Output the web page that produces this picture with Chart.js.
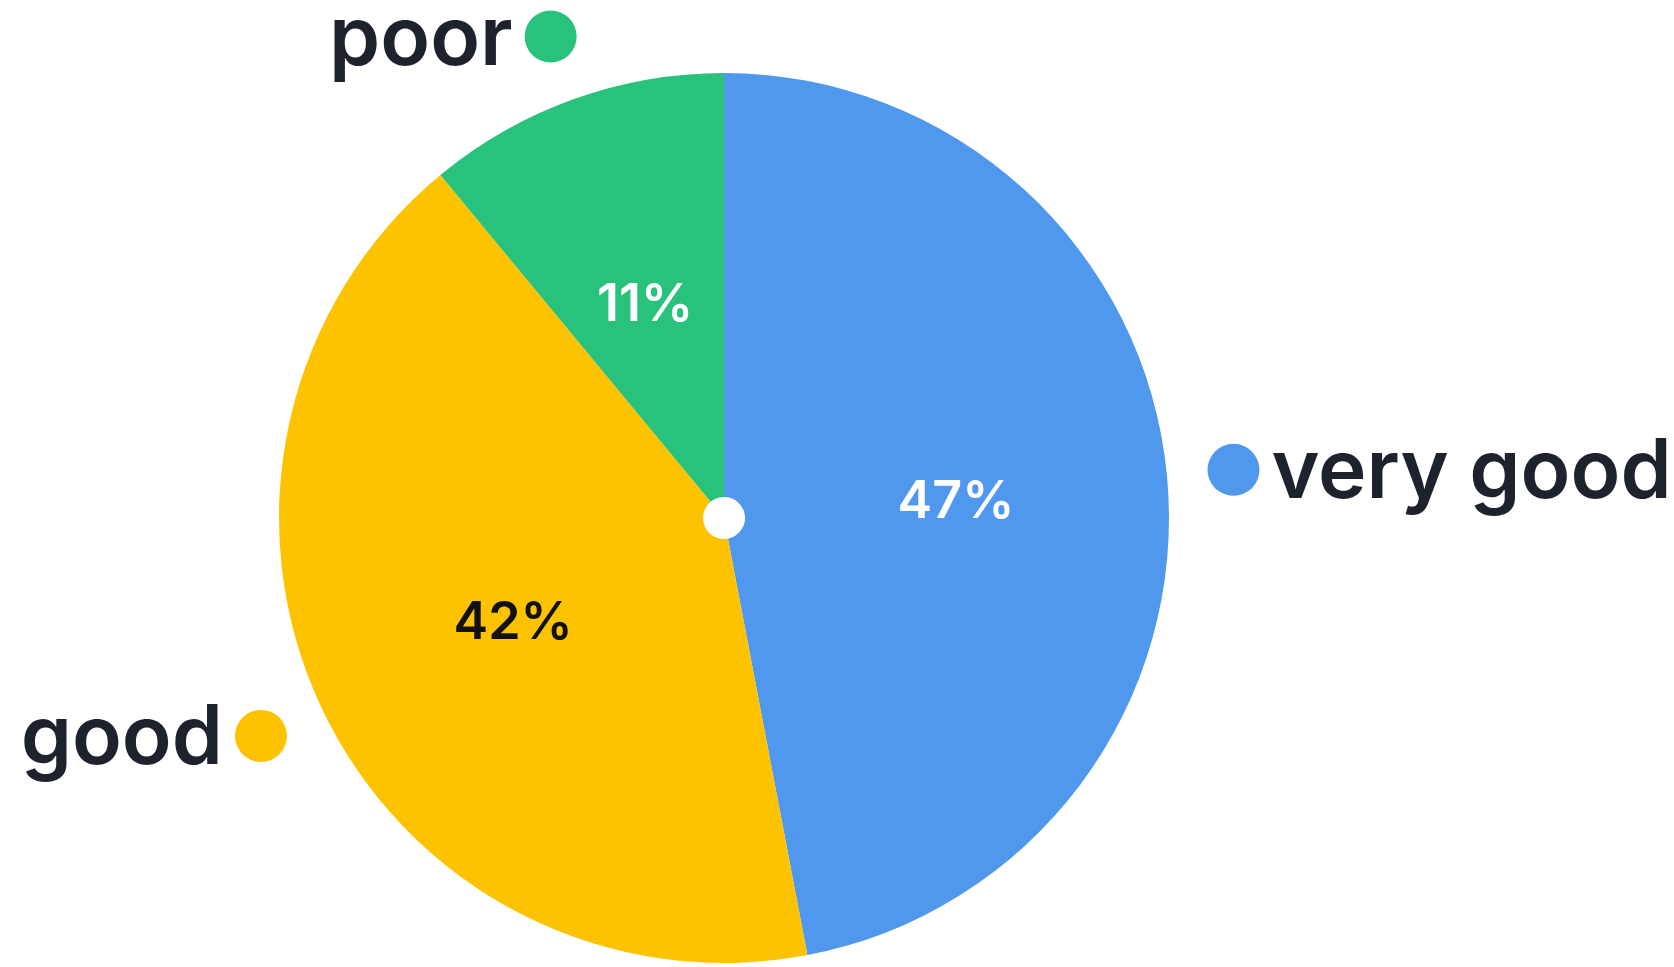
<!DOCTYPE html>
<html>
<head>
<meta charset="utf-8">
<script src="https://cdn.jsdelivr.net/npm/chart.js@4.4.0/dist/chart.umd.min.js"></script>
<style>
  html, body { margin: 0; padding: 0; background: #ffffff; }
  #wrap { width: 1674px; height: 967px; position: relative; }
</style>
</head>
<body>
<div id="wrap"><canvas id="c" width="1674" height="967"></canvas></div>
<script>
const categories = ['very good', 'good', 'poor'];
const values = [47, 42, 11];
const percentLabels = ['47%', '42%', '11%'];
const sliceColors = ['#4f98ed', '#fdc200', '#29c27d'];
const percentColors = ['#ffffff', '#111111', '#ffffff'];

const TEXT_COLOR = '#1e222d';
const PCT_FONT = '600 52px Inter';
const CAT_FONT = '600 82px Inter';

const labelPlugin = {
  id: 'sliceLabels',
  afterDatasetsDraw(chart) {
    const ctx = chart.ctx;
    const meta = chart.getDatasetMeta(0);
    meta.data.forEach((arc, i) => {
      const p = arc.getProps(['x', 'y', 'startAngle', 'endAngle', 'innerRadius', 'outerRadius'], true);
      const mid = (p.startAngle + p.endAngle) / 2;
      const rIn = (p.innerRadius + p.outerRadius) / 2;
      const lx = p.x + Math.cos(mid) * rIn;
      const ly = p.y + Math.sin(mid) * rIn;
      ctx.save();
      ctx.font = PCT_FONT;
      ctx.fillStyle = percentColors[i];
      ctx.textAlign = 'center';
      ctx.textBaseline = 'alphabetic';
      ctx.fillText(percentLabels[i], lx, ly + 22);
      const rOut = p.outerRadius * 1.15;
      const dx = p.x + Math.cos(mid) * rOut;
      const dy = p.y + Math.sin(mid) * rOut;
      const dotR = 26;
      ctx.beginPath();
      ctx.arc(dx, dy, dotR, 0, Math.PI * 2);
      ctx.fillStyle = sliceColors[i];
      ctx.fill();
      ctx.font = CAT_FONT;
      ctx.fillStyle = TEXT_COLOR;
      const right = Math.cos(mid) >= 0;
      ctx.textAlign = right ? 'left' : 'right';
      const tx = right ? dx + dotR + 12 : dx - dotR - 12;
      ctx.fillText(categories[i], tx, dy + 28);
      ctx.restore();
    });
  }
};

function build() {
  new Chart(document.getElementById('c'), {
    type: 'doughnut',
    data: {
      labels: categories,
      datasets: [{
        data: values,
        backgroundColor: sliceColors,
        borderWidth: 0,
        hoverOffset: 0
      }]
    },
    options: {
      responsive: false,
      animation: false,
      cutout: 21,
      layout: { padding: { top: 73, bottom: 4, left: 279, right: 505 } },
      plugins: {
        legend: { display: false },
        tooltip: { enabled: false }
      }
    },
    plugins: [labelPlugin]
  });
}

Promise.all([
  document.fonts.load(PCT_FONT, '0123456789%'),
  document.fonts.load(CAT_FONT, 'very good poor')
]).then(build, build);
</script>
</body>
</html>
